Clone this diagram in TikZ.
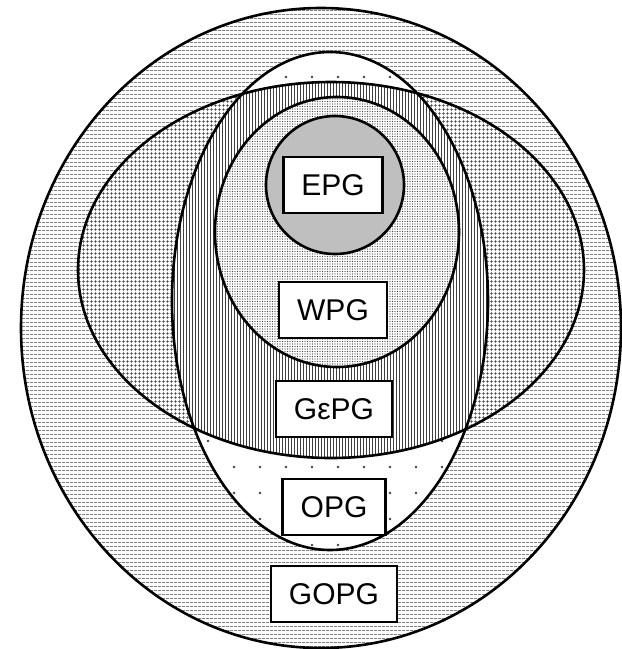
\documentclass[tikz,border=0pt]{standalone}
\usepackage{fontspec}
\setmainfont{Liberation Sans}
\usetikzlibrary{patterns.meta}

\begin{document}
\begin{tikzpicture}[x=1pt,y=-1pt,
  rim/.style={line width=2.6pt},
  zone/.style={preaction={fill=white},pattern color=black!75},
  tag/.style={draw,fill=white,line width=2.4pt,inner xsep=18pt,inner ysep=0pt,
    minimum height=56pt,font=\fontsize{30}{34}\selectfont}]

\useasboundingbox (0,0) rectangle (622,649);

%% GOPG, outer ellipse
\path[zone,pattern={Lines[angle=0,distance=4pt,line width=0.7pt]}] (321,328) ellipse [x radius=300,y radius=320];

%% wide ellipse
\path[zone,pattern={Hatch[angle=0,distance=4pt,line width=0.7pt]}] (331,270) ellipse [x radius=253,y radius=188];

%% tall ellipse (OPG)
\path[zone,pattern={Dots[distance=26pt,radius=1.4pt]}] (330,301) ellipse [x radius=158,y radius=249];

%% where the two ellipses overlap
\begin{scope}
\clip (331,270) ellipse [x radius=253,y radius=188];
\path[zone,pattern={Lines[angle=90,distance=3pt,line width=0.8pt]}] (330,301) ellipse [x radius=158,y radius=249];
\end{scope}

%% WPG
\path[zone,pattern={Dots[distance=2.5pt,radius=0.55pt]}] (337,232) ellipse [x radius=122,y radius=135];

%% EPG
\fill[black!25] (335,185) circle (69);

%% outlines
\draw[rim] (321,328) ellipse [x radius=300,y radius=320];
\draw[rim] (331,270) ellipse [x radius=253,y radius=188];
\draw[rim] (330,301) ellipse [x radius=158,y radius=249];
\draw[rim] (337,232) ellipse [x radius=122,y radius=135];
\draw[rim] (335,185) circle (69);

%% labels
\node[tag] (epg) at (333,185) {EPG};
\node[tag] (wpg) at (333,310) {WPG};
\node[tag] (gepg) at (334,409) {GεPG};
\node[tag] (opg) at (334,507) {OPG};
\node[tag] (gopg) at (334,594) {GOPG};
\end{tikzpicture}
\end{document}
